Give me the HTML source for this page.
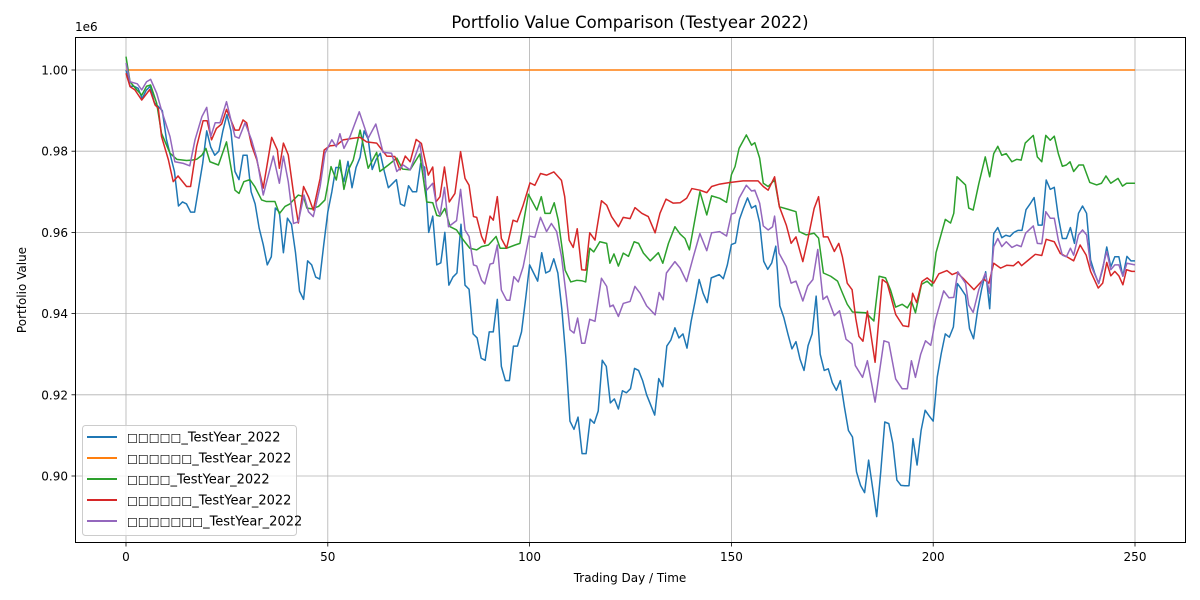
<!DOCTYPE html>
<html><head><meta charset="utf-8"><style>
html,body{margin:0;padding:0;background:#fff;}
svg{display:block;font-family:"DejaVu Sans","Liberation Sans",sans-serif;}
</style></head><body>
<svg id="chart" width="1200" height="600" viewBox="0 0 1200 600" xmlns="http://www.w3.org/2000/svg">
<rect width="1200" height="600" fill="#fff"/>
<text x="630" y="28" text-anchor="middle" font-size="16.5">Portfolio Value Comparison (Testyear 2022)</text>
<g id="grid"></g>
<g id="series"></g>
<rect x="75.5" y="37.5" width="1110" height="505" fill="none" stroke="#000" stroke-width="1"/>
<g id="ticks"></g>
<text x="75" y="31" font-size="12">1e6</text>
<text x="630" y="582" text-anchor="middle" font-size="12">Trading Day / Time</text>
<text x="26" y="290" text-anchor="middle" font-size="12" transform="rotate(-90 26 290)">Portfolio Value</text>
<g id="legend"></g>
</svg>
<script>
const xTicks = [0, 50, 100, 150, 200, 250];
const yTicks = [0.90, 0.92, 0.94, 0.96, 0.98, 1.00];
const yTickLabels = ["0.90", "0.92", "0.94", "0.96", "0.98", "1.00"];
const seriesPrefixes = ["□□□□□","□□□□□□","□□□□","□□□□□□","□□□□□□□"];
const seriesSuffix = "_TestYear_2022";
const seriesColors = ["#1f77b4","#ff7f0e","#2ca02c","#d62728","#9467bd"];

const blueVals = [1000,996,996,995.5,993,995,996,992,991,990,
983,979,975,966.5,967.5,967,965,965,971,977,
985,981,979,980,985,989,985,975,973,979,
979,970,967,961,957,952,954,966,965,955,
963.5,962,955,945.5,943.5,953,952,949,948.5,957,
965,970,976,976,972.5,977.5,971,976,978.5,985,
983,975.5,978,979.5,975,971,972,973,967,966.5,
971.5,970,970,977,976,960,964,952,952.5,960,
947,949,950,962,947,946,935,934,929,928.5,
935.5,935.5,943.5,927,923.5,923.5,932,932,935.5,943.5,
952,950,948,955,950,950.5,953.5,950,941,929,
913.5,911.5,914.5,905.5,905.5,914,913,916,928.5,927,
918,919,916.5,921,920.5,921.5,926.5,926,923.5,920,
917.5,915,924,922,932,933.5,936.5,934,935,931.5,
938,943,948.4,945,942.7,948.8,949.2,949.6,948.6,952,
957,957.4,963.2,966,968.5,966,966.6,962.4,952.9,950.9,
952.5,956.6,941.9,939,935,931.3,933.1,928.8,926,932.1,
935,944.3,930,926,926.4,923,921.1,923.5,917,911.2,
909.6,901,897.7,895.9,903.9,897,890,901,913.3,912.9,
908,899,897.7,897.6,897.6,909.2,902.7,911.2,916.2,914.8,
913.5,924.4,930.2,935,934.2,936.7,947.4,946,944.5,936.3,
933.8,940.8,946,950.3,941.2,959.7,961.2,958.7,959.3,959,
960,960.5,960.5,965.6,967,968.6,961.8,961.8,972.9,970.6,
971.1,963.8,958.5,958.5,961.2,957.3,964.7,966.5,964.7,953.2,
950,947.4,951,956.4,951.5,954,954,949.2,954.1,953,
953];

const orangeDays = [0, 250];
const orangeVals = [1000, 1000];

const greenDays = [0,1,2.6,3.9,5.1,6.1,7.6,8.8,10.9,12.6,15,16.3,17.5,18.8,19.8,20.8,22.9,24.9,27,28,29.2,30.7,31.9,33.6,34.8,36.9,38,39.4,40.6,41.5,42.7,44,44.8,46,47.7,49.3,50.8,52.1,53,54,55.1,56.3,58,60,62.1,62.9,65,67.1,68.5,
70.4,72.8,74.5,76,77,77.8,79,80.3,81.9,83.6,85.2,86.9,88.1,89.8,91.7,92.7,94.3,96.4,97.6,99.7,101.8,102.9,103.8,105.1,106.1,107.1,108.8,110.2,111.7,112.9,113.9,114.9,115.9,117.4,119.1,119.9,120.9,122,123.2,124.5,125.9,127,128.2,129.9,131.9,133,134.4,136,137.3,138.5,139.6,
142.2,143.9,145.1,147.1,148.8,150,150.9,151.9,153.7,155,155.8,157,157.9,159.1,160.7,161.9,164,166,166.8,168.5,170.5,171.6,172.8,174.6,176.3,177.5,178.7,180,183.3,185.3,186.6,188.2,189.4,190.7,192.3,193.6,194.6,195.6,197.1,198.5,199.7,200.7,203,204.3,205.1,205.9,
208,208.8,209.9,211.3,212.9,214,215,216,217,218.1,219.5,220.7,221.8,222.8,224.8,225.8,226.9,227.9,229,230,231,232,233,233.9,234.8,236.1,237.2,238.8,240.5,241.7,242.8,244,245.8,246.9,247.9,250];
const greenVals = [1003.3,997.1,995.2,993.8,996,996.3,991.8,984.4,979.5,978,977.7,977.8,978,979,980.7,977.4,976.6,982.3,970.4,969.6,972.5,973,971.3,968,967.6,967.6,964.6,966.4,967,968,969.2,968.8,966,965.8,966.4,968,976.2,972.9,977.8,970.6,975.4,977.8,985.2,975.8,979.7,975,976.6,978.3,975.6,
975.4,979.3,967.5,967.3,964.2,964,965.9,961.4,960.6,958.1,956.1,955.7,956.5,956.9,959,956.1,956.1,956.9,957.3,969.4,965.5,968.8,964.7,964.7,967.3,963,950.7,947.8,948.2,948.1,947.8,956.1,955.2,957.7,957.3,952.4,954.7,951.7,954.9,954.1,957.7,957.3,954.9,953,955,952.4,957.3,961.4,959.6,958.5,955.7,
970,964.3,969,968.4,967.4,974.2,976.2,980.7,984,981.5,982.1,978.3,972.1,971.3,972.9,966.3,965.7,965.1,960.2,959.4,959.8,958.6,950,949.2,948,945.1,942.3,940.4,940.2,938.2,949.2,948.8,945.9,941.6,942.3,941.4,943.1,940.2,947.2,948,946.8,955,963.2,962.3,964.7,973.7,
971.7,966,965.5,972,978.6,973.7,979.4,981.2,979,979.4,977.4,978,977.8,982,983.9,978.6,977.4,983.9,982.7,983.7,979.4,976.3,976.6,977.4,975,976.6,976.6,972.3,971.7,972.1,973.9,972.1,973.3,971.4,972.1,972.1];

const redDays = [0,1,2.2,3.9,5.9,7.2,8,8.8,10.5,11.7,12.9,15,16,17.5,19.1,20.1,21.2,22.4,23.7,24.9,27,28,29,29.9,31.1,32.4,34,36.1,37.5,38,39,40.2,41.5,42.7,44,45.2,46.4,48.1,49.1,50.5,52.2,53.8,56.3,58,59.6,62.1,64.6,66.6,67.9,69.2,
70.4,71.9,73.2,74.9,76,76.8,77.8,78.9,80.1,81.5,82.9,84,85,86.1,86.9,88.1,88.9,90.2,91,92,93,94.3,95.9,96.9,98.4,100.1,101.3,102.7,104.2,106,107.9,108.7,109.8,110.8,111.8,112.9,113.9,114.9,116.2,117.8,119.1,120.3,122,123.2,124.9,126.1,127.8,129.4,131.1,132.3,133.8,135.6,137.3,138.9,140.2,
142.2,143.9,145.1,147.1,149.6,152.9,156.6,157.9,159.1,160.7,161.9,163.6,164.8,166,167.7,168.9,170.5,171.6,172.8,173.9,175.5,176.6,177.5,178.7,179.9,180.8,181.6,182.6,183.7,185.6,187.4,188.6,190.7,192.5,193.9,194.9,195.9,197.2,198.5,200.1,
201.4,203.4,204.7,205.9,207.6,210.1,212.5,213.8,215,216.7,218.2,219.9,221.1,221.9,223.6,225.3,226.9,228,230,231.5,233.1,234.8,236.4,237.9,239,240.9,242,243,244,245,246,247,247.9,249.2,250];
const redVals = [999.2,995.9,995.1,992.6,995.2,991.4,990.6,983.6,977.9,972.5,973.9,971.3,971.3,981.1,987.5,987.5,982.8,985.6,986.7,990.3,985.2,985.2,987.7,987,981.5,977.9,970.9,983.4,980.3,975.8,982,979.1,969.7,962.3,971.3,968.8,965.5,973.3,980.3,981.3,981.5,982.8,983.2,983.4,982.3,982,978.8,978.7,975.4,978.8,
977.4,982.9,981.9,974.1,976.1,967.5,968.8,976.1,967.5,969.6,979.9,973.3,971.6,963.9,963.7,959,957.3,964,963,968.8,958.5,956.1,963,962.6,966.7,972.2,971.6,974.5,974.1,974.9,972.8,968.8,958.1,956.3,960.9,950.8,950.7,959.9,958.1,967.8,966.7,963.9,961.4,963.7,963.4,966.1,964.7,963.9,959.9,964.7,968.2,967.2,967.3,968.4,970.8,
970.4,969.8,971.3,971.9,972.3,972.7,972.7,971.3,970.4,973.7,966.3,961.8,957.3,958.9,952.8,958.1,965.9,968.8,958.9,958.9,955.3,957.3,954,947.5,945.9,938.9,934.4,933.2,940.6,928,948.4,947.5,939.8,937,936.8,945,942.7,947.9,948.8,947.5,
949.8,950.6,949.6,950.1,948.5,945.9,948.5,947.5,952.4,951.2,951.9,951.8,952.8,951.8,953.2,954.6,954.3,958.3,957.7,954.8,954,953,956.9,954.4,950.4,946.3,947.5,952.6,949.3,950.4,949.3,947.1,950.8,950.4,950.4];

const purpleDays = [0,1,2.8,3.9,5.1,6.1,7.6,8.8,10.9,12.1,14.2,15.8,17.1,18.8,20,21,22.1,23.3,24.9,27,28,29.5,31.1,32.4,34,36.5,38,39,40.2,41.5,42.7,44.1,45.2,46.4,48.1,49.3,51,52.1,53,54,55.5,57.8,60,61.9,63.7,65.8,67.1,68.7,
70.4,72.8,74.5,76,77,77.8,78.9,79.9,81.9,82.9,84,85,86.1,86.9,88.1,88.9,90.2,91,92,93,94.3,95.1,96.1,97.2,98.4,99.9,101.3,102.7,104.2,105.4,106.7,107.9,109.1,110,111,111.9,112.9,113.7,114.9,116.2,117.8,119.1,119.9,120.7,122,123.2,124.9,126.1,127.4,129,131.1,132.1,133.1,133.9,136,137.3,138.9,140.6,
142.2,143.9,145.1,147.1,148.8,150,150.9,151.9,153.7,155,155.8,157,157.9,159.1,160.2,160.7,161.8,163.6,164.8,166,167.7,168.9,170.2,171.4,172.7,173.7,175.5,176.8,178.4,179.9,180.7,182.5,183.7,185.6,187.8,189,190.7,192.3,193.6,194.6,195.6,196.9,198.1,199.4,200.6,202.6,203.9,205.1,
206.1,208,208.8,209.9,211.3,212.9,214,215,216,217,218.1,219.5,220.7,221.8,222.9,224.8,225.8,226.9,227.9,229,230,231,232,233,234,234.8,236,237,238,239,241,243,244,245,246,247,248,250];
const purpleVals = [1001.7,997.1,996.6,995.1,997.1,997.7,994.3,990.1,983.6,977.4,977,976.4,982.8,988.5,990.8,983.6,987,987,992.2,983.6,983.2,987,982.8,978.3,969.2,978.8,972.1,978.8,972.5,962.2,962.6,969.2,965.1,963.9,971.3,979.5,982.8,981.1,984.3,980.7,983.6,989.7,983.2,986.7,979.7,979.5,975,976.6,
975.4,981.9,970.4,972.1,966.3,964.2,971.1,961.4,962.9,970.6,960.6,959,952,951.7,948.2,947.3,952.2,952.4,956.9,945.8,943.3,943.3,949.1,947.8,951.5,959.1,958.8,963.7,960.2,962.2,960.2,954.1,944.2,936,935.2,938.9,932.7,932.7,938.6,938.1,948.7,946.7,941.7,942.1,939.3,942.5,943,946.7,945,941.9,939.7,945.2,943.4,950,952.8,951.2,947.9,954.1,
959.7,955.5,959.9,960.2,959.1,964.5,964.8,968.4,971.6,970.2,970.4,967.2,961.6,960.6,961.4,964,954.9,951.6,947.5,948,943.1,946.8,948.4,955.8,943.5,944.3,939.5,940.7,933.7,932.5,927.2,924.3,928.4,918.2,933.3,932.9,923.9,921.5,921.5,928.4,924.3,930,933.3,932.2,938.6,945.6,943.9,944,
950.3,947.5,942.1,940.3,945.9,949.9,945,956.5,958.5,956.5,957.7,956.3,956.9,956.5,959.8,961.6,957.3,957.2,965.1,963.5,963.5,958.1,954.4,954,956.1,954.4,959.4,960.6,959.4,952,947.5,955.3,950.8,952,952,949.2,952.4,952];

const X0 = 126, XS = 4.036;
function xScale(d){ return X0 + XS * d; }
function yScale(v){ return 70 + (1000 - v) * 4.06; }
function yScaleTick(t){ return yScale(t * 1000); }

const NS = "http://www.w3.org/2000/svg";
const grid = document.getElementById('grid');
const ticks = document.getElementById('ticks');
xTicks.forEach(t => {
  const x = xScale(t);
  const g = document.createElementNS(NS,'line');
  
  
  g.setAttribute('x1', x); g.setAttribute('x2', x); g.setAttribute('y1', 37.5); g.setAttribute('y2', 542.5);
  g.setAttribute('stroke', '#b0b0b0'); g.setAttribute('stroke-width', '0.8');
  grid.appendChild(g);
  const tk = document.createElementNS(NS,'line');
  
  
  tk.setAttribute('x1', x); tk.setAttribute('x2', x); tk.setAttribute('y1', 542.5); tk.setAttribute('y2', 546.5);
  tk.setAttribute('stroke', '#000'); tk.setAttribute('stroke-width', '0.8');
  ticks.appendChild(tk);
  const tx = document.createElementNS(NS,'text');
  
  
  tx.setAttribute('x', x); tx.setAttribute('y', 561); tx.setAttribute('text-anchor','middle'); tx.setAttribute('font-size','12');
  tx.textContent = String(t);
  ticks.appendChild(tx);
});
yTicks.forEach((t,i) => {
  const y = yScaleTick(t);
  const g = document.createElementNS(NS,'line');
  
  
  g.setAttribute('x1', 75.5); g.setAttribute('x2', 1185.5); g.setAttribute('y1', y); g.setAttribute('y2', y);
  g.setAttribute('stroke', '#b0b0b0'); g.setAttribute('stroke-width', '0.8');
  grid.appendChild(g);
  const tk = document.createElementNS(NS,'line');
  
  
  tk.setAttribute('x1', 71.5); tk.setAttribute('x2', 75.5); tk.setAttribute('y1', y); tk.setAttribute('y2', y);
  tk.setAttribute('stroke', '#000'); tk.setAttribute('stroke-width', '0.8');
  ticks.appendChild(tk);
  const tx = document.createElementNS(NS,'text');
  
  
  tx.setAttribute('x', 68); tx.setAttribute('y', y + 4.5); tx.setAttribute('text-anchor','end'); tx.setAttribute('font-size','12');
  tx.textContent = yTickLabels[i];
  ticks.appendChild(tx);
});

const seriesG = document.getElementById('series');
function drawLine(days, vals, color, name){
  const pts = vals.map((v,i) => xScale(days[i]).toFixed(2) + ',' + yScale(v).toFixed(2)).join(' ');
  const pl = document.createElementNS(NS,'polyline');
  
  
  pl.setAttribute('points', pts);
  pl.setAttribute('fill','none'); pl.setAttribute('stroke', color);
  pl.setAttribute('stroke-width','1.5'); pl.setAttribute('stroke-linejoin','round');
  seriesG.appendChild(pl);
}
const blueDays = blueVals.map((v,i) => i);
drawLine(blueDays, blueVals, seriesColors[0], 'series-line-1');
drawLine(orangeDays, orangeVals, seriesColors[1], 'series-line-2');
drawLine(greenDays, greenVals, seriesColors[2], 'series-line-3');
drawLine(redDays, redVals, seriesColors[3], 'series-line-4');
drawLine(purpleDays, purpleVals, seriesColors[4], 'series-line-5');

const legend = document.getElementById('legend');
const box = document.createElementNS(NS,'rect');


box.setAttribute('x', 82.5); box.setAttribute('y', 425.5); box.setAttribute('width', 214); box.setAttribute('height', 110);
box.setAttribute('rx', 3); box.setAttribute('fill', '#fff'); box.setAttribute('fill-opacity','0.8'); box.setAttribute('stroke', '#ccc');
legend.appendChild(box);
seriesPrefixes.forEach((p,i) => {
  const y = 437 + i * 21;
  const ln = document.createElementNS(NS,'line');
  
  
  ln.setAttribute('x1', 87); ln.setAttribute('x2', 117); ln.setAttribute('y1', y); ln.setAttribute('y2', y);
  ln.setAttribute('stroke', seriesColors[i]); ln.setAttribute('stroke-width', '2');
  legend.appendChild(ln);
  const tx = document.createElementNS(NS,'text');
  
  
  tx.setAttribute('x', 127); tx.setAttribute('y', y + 4.5); tx.setAttribute('font-size', '13');
  const ts = document.createElementNS(NS,'tspan');
  ts.setAttribute('font-size', '11.5');
  ts.textContent = p;
  tx.appendChild(ts);
  tx.appendChild(document.createTextNode(seriesSuffix));
  legend.appendChild(tx);
});
</script>
</body></html>
